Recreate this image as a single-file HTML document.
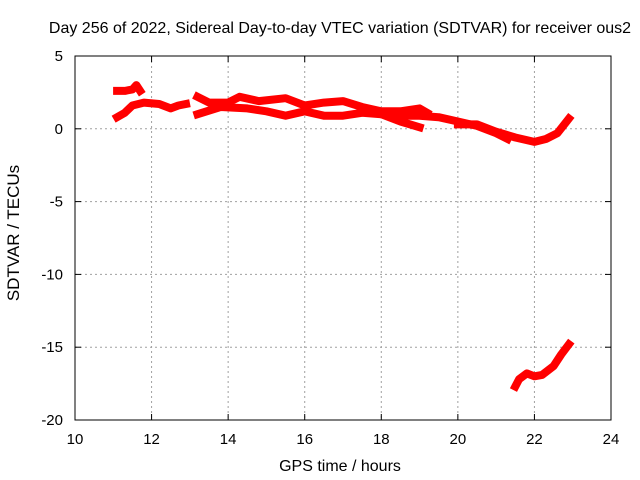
<!DOCTYPE html>
<html><head><meta charset="utf-8"><style>
body{margin:0;background:#fff;}
svg{display:block;font-family:"Liberation Sans",sans-serif;}
</style></head><body>
<svg id="chart" width="640" height="480">
<text x="340" y="33" font-size="16" text-anchor="middle">Day 256 of 2022, Sidereal Day-to-day VTEC variation (SDTVAR) for receiver ous2</text>
<g id="grid"></g>
<rect x="75" y="56" width="536" height="364" fill="none" stroke="#000" stroke-width="1"/>
<g id="ticks"></g>
<g id="series"></g>
<text x="340" y="471" font-size="16" text-anchor="middle">GPS time / hours</text>
<text x="19" y="233" font-size="17" text-anchor="middle" transform="rotate(-90 19 233)">SDTVAR / TECUs</text>
</svg>
<script>
const xTicks=[10,12,14,16,18,20,22,24];
const yTicks=[5,0,-5,-10,-15,-20];
const trackA_h=[11.1,11.3,11.5,11.6,11.7];
const trackA_v=[2.6,2.6,2.7,3.0,2.6];
const trackB_h=[11.1,11.3,11.5,11.8,12.2,12.5,12.7,12.9];
const trackB_v=[0.8,1.1,1.6,1.8,1.7,1.4,1.6,1.7];
const trackC_h=[13.2,13.5,14,14.3,14.8,15.5,16,16.5,17,17.5,18,18.5,19,19.2];
const trackC_v=[2.2,1.8,1.8,2.2,1.9,2.1,1.6,1.8,1.9,1.5,1.2,1.2,1.4,1.1];
const trackD_h=[13.2,13.8,14.5,15,15.5,16,16.5,17,17.5,18,18.5,19,19.5,20,20.5,21,21.3];
const trackD_v=[1.0,1.5,1.4,1.2,0.9,1.2,0.9,0.9,1.1,1.0,0.9,0.9,0.8,0.5,0.2,-0.3,-0.7];
const trackE_h=[18,18.5,19];
const trackE_v=[1.0,0.5,0.1];
const trackF_h=[20,20.5,21,21.5,22,22.3,22.6,22.9];
const trackF_v=[0.3,0.3,-0.2,-0.6,-0.9,-0.7,-0.3,0.7];
const trackG_h=[21.5,21.6,21.8,22,22.2,22.5,22.7,22.9];
const trackG_v=[-17.7,-17.2,-16.8,-17.0,-16.9,-16.3,-15.5,-14.8];
const tracks=[[trackA_h,trackA_v],[trackB_h,trackB_v],[trackC_h,trackC_v],[trackD_h,trackD_v],[trackE_h,trackE_v],[trackF_h,trackF_v],[trackG_h,trackG_v]];
const X=h=>75+(h-10)*536/14;
const Y=v=>56+(5-v)*364/25;
const NS="http://www.w3.org/2000/svg";
const grid=document.getElementById('grid'),ticks=document.getElementById('ticks'),ser=document.getElementById('series');
function mk(t,a,p){const e=document.createElementNS(NS,t);for(const k in a)e.setAttribute(k,a[k]);p.appendChild(e);return e;}
xTicks.forEach(t=>{const x=X(t);
 if(t>10&&t<24){const g=mk('line',{x1:x,x2:x,y1:56,y2:420,stroke:'#a0a0a0','stroke-dasharray':'2,3'},grid);
 
 }
 mk('line',{x1:x,x2:x,y1:420,y2:414,stroke:'#000'},ticks);mk('line',{x1:x,x2:x,y1:56,y2:62,stroke:'#000'},ticks);
 const l=mk('text',{x:x,y:444,'font-size':15,'text-anchor':'middle'},ticks);l.textContent=t;
 
 });
yTicks.forEach(t=>{const y=Y(t);
 if(t<5&&t>-20){const g=mk('line',{x1:75,x2:611,y1:y,y2:y,stroke:'#a0a0a0','stroke-dasharray':'2,3'},grid);
 
 }
 mk('line',{x1:75,x2:81,y1:y,y2:y,stroke:'#000'},ticks);mk('line',{x1:611,x2:605,y1:y,y2:y,stroke:'#000'},ticks);
 const l=mk('text',{x:63,y:y+5,'font-size':15,'text-anchor':'end'},ticks);l.textContent=t;
 
 });
tracks.forEach(([hs,vs])=>{
 const pts=hs.map((h,i)=>X(h).toFixed(1)+','+Y(vs[i]).toFixed(1)).join(' ');
 const p=mk('polyline',{points:pts,fill:'none',stroke:'#ff0000','stroke-width':8,'stroke-linejoin':'round','stroke-linecap':'square'},ser);
 
 
});
</script>
</body></html>
